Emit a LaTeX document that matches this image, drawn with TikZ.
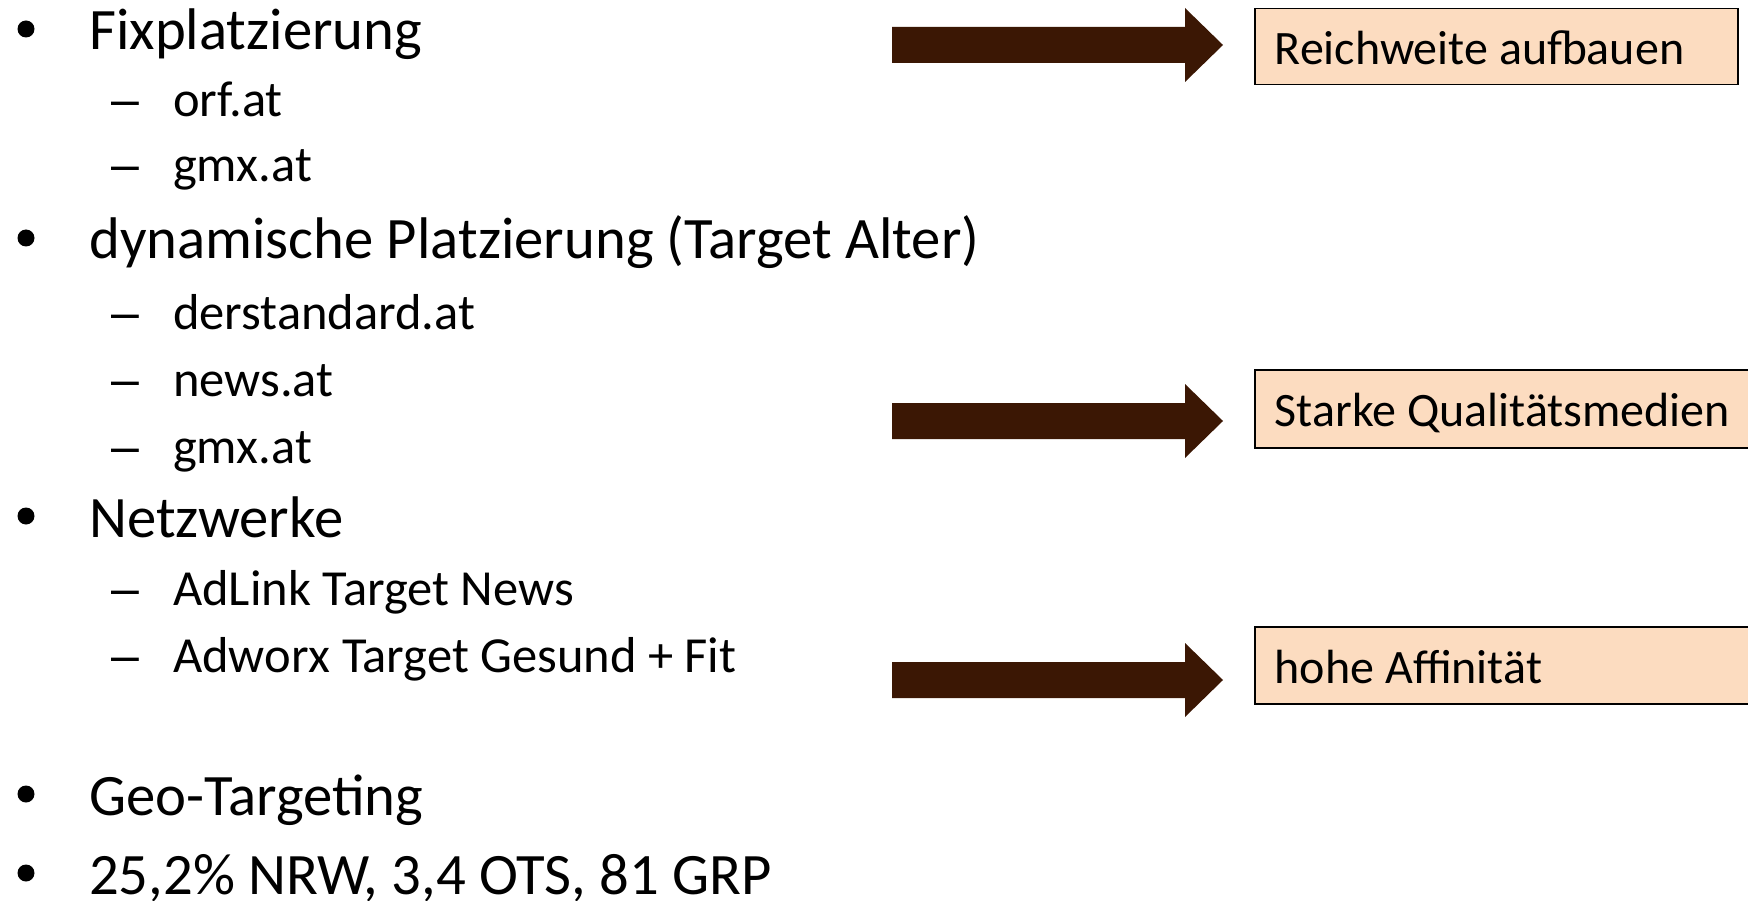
\documentclass[tikz,border=0pt]{standalone}
\usepackage{fontspec}
\setmainfont{Carlito}
\newfontfamily\symfont{Liberation Sans}
\usetikzlibrary{positioning}
\definecolor{arrowbrown}{RGB}{59,23,4}
\definecolor{boxpeach}{RGB}{252,220,192}
\begin{document}
\begin{tikzpicture}[x=1pt,y=-1pt,
lvlone/.style = {anchor=base west, inner sep=0pt, font=\fontsize{58.7}{58.7}\selectfont},
lvltwo/.style = {anchor=base west, inner sep=0pt, font=\fontsize{50.5}{50.5}\selectfont},
bulletmark/.style = {circle, fill=black, inner sep=0pt, minimum size=17pt},
dashmark/.style = {anchor=base west, inner sep=0pt, font=\symfont\fontsize{50}{50}\selectfont},
goalbox/.style = {draw=black, line width=1.5pt, fill=boxpeach, anchor=north west, inner xsep=20pt, inner ysep=0pt, align=flush left, text height=40pt, text depth=4pt, font=\fontsize{48}{48}\selectfont},
bigarrow/.style = {fill=arrowbrown},]
\useasboundingbox (0,0) rectangle (1748,901);
\clip (0,0) rectangle (1748,901);
% left list
\node (b1) at (26,29)[bulletmark] {};
\node (fix) at (89,50)[lvlone] {Fixplatzierung};
\node (d1) at (111,117)[dashmark] {–};
\node (orf) at (173,117)[lvltwo] {orf.at};
\node (d2) at (111,182)[dashmark] {–};
\node (gmxa) at (173,182)[lvltwo] {gmx.at};
\node (b2) at (26,238)[bulletmark] {};
\node (dyn) at (89,259)[lvlone] {dynamische Platzierung (Target Alter)};
\node (d3) at (111,329)[dashmark] {–};
\node (std) at (173,329)[lvltwo] {derstandard.at};
\node (d4) at (111,396)[dashmark] {–};
\node (news) at (173,396)[lvltwo] {news.at};
\node (d5) at (111,463)[dashmark] {–};
\node (gmxb) at (173,463)[lvltwo] {gmx.at};
\node (b3) at (26,516)[bulletmark] {};
\node (net) at (89,537)[lvlone] {Netzwerke};
\node (d6) at (111,605)[dashmark] {–};
\node (adlink) at (173,605)[lvltwo] {AdLink Target News};
\node (d7) at (111,672)[dashmark] {–};
\node (adworx) at (173,672)[lvltwo] {Adworx Target Gesund + Fit};
\node (b4) at (26,794)[bulletmark] {};
\node (geo) at (89,815)[lvlone] {Geo-Targeting};
\node (b5) at (26,873)[bulletmark] {};
\node (nrw) at (89,894)[lvlone] {25,2\% NRW, 3,4 OTS, 81 GRP};
% goal boxes
\node (reach) at (1254,8)[goalbox, minimum width=483pt, minimum height=76pt, text width=443pt] {Reichweite aufbauen};
\node (qual) at (1254,369)[goalbox, minimum width=520pt, minimum height=78pt, text width=480pt] {Starke Qualitätsmedien};
\node (aff) at (1254,626)[goalbox, minimum width=520pt, minimum height=77pt, text width=480pt] {hohe Affinität};
% block arrows
\fill[bigarrow] (892,27)--(1185,27)--(1185,8)--(1223,45)--(1185,82)--(1185,63)--(892,63)--cycle;
\fill[bigarrow] (892,403)--(1185,403)--(1185,384)--(1223,421)--(1185,458)--(1185,439)--(892,439)--cycle;
\fill[bigarrow] (892,662)--(1185,662)--(1185,643)--(1223,680)--(1185,717)--(1185,698)--(892,698)--cycle;
\end{tikzpicture}
\end{document}
